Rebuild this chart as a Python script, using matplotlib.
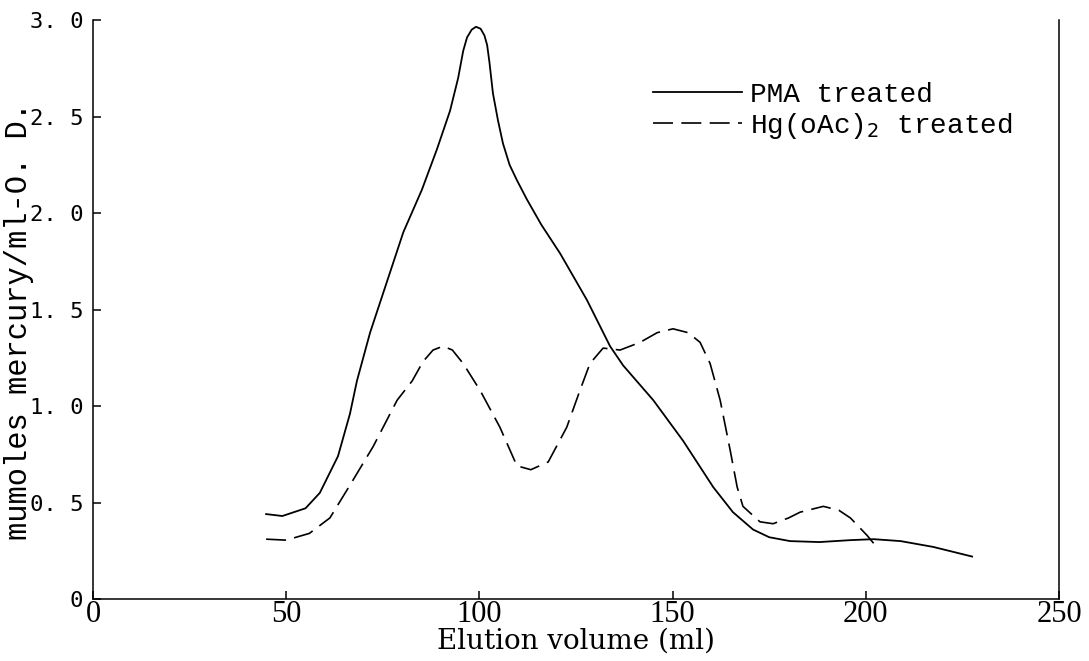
import matplotlib
matplotlib.use("Agg")
import matplotlib.pyplot as plt

# PMA treated (solid)
pma_x = [44.8, 49, 55, 58.7, 63.4, 66.5, 68.3, 71.7, 76, 80.3, 85.1, 89, 92.4,
         94.5, 95.8, 96.8, 98, 99.1, 100.3, 101.3, 102, 102.6, 103.5, 104.8,
         106.1, 107.8, 109.7, 112.3, 116, 120.9, 127.8, 133.8, 137.2, 145,
         152.7, 160.5, 165.6, 170.8, 175, 180.4, 188, 196, 202, 209, 217.4,
         227.5]
pma_y = [0.44, 0.43, 0.47, 0.55, 0.74, 0.96, 1.13, 1.38, 1.64, 1.90, 2.12, 2.33,
         2.53, 2.70, 2.84, 2.91, 2.95, 2.965, 2.955, 2.92, 2.87, 2.78, 2.62,
         2.48, 2.36, 2.25, 2.17, 2.07, 1.94, 1.79, 1.55, 1.31, 1.21, 1.03, 0.82,
         0.58, 0.45, 0.36, 0.32, 0.30, 0.295, 0.305, 0.31, 0.30, 0.27, 0.22]

# Hg(oAc)2 treated (dashed)
hg_x = [44.8, 50, 56, 61.3, 66.5, 72.5, 78.7, 82.6, 85.4, 88, 90.6, 93, 95.8,
        100.2, 105.3, 109.7, 113.3, 117.8, 122.6, 126, 128.6, 132, 136.4,
        141.6, 146, 150.1, 154, 157.1, 159.7, 162.3, 164.9, 166.7, 168.2,
        172.6, 176, 180, 183, 189, 193, 196, 200.3, 203.2]
hg_y = [0.31, 0.305, 0.34, 0.42, 0.59, 0.79, 1.03, 1.13, 1.23, 1.29, 1.31,
        1.29, 1.22, 1.08, 0.89, 0.69, 0.67, 0.71, 0.89, 1.08, 1.22, 1.30, 1.29,
        1.33, 1.38, 1.40, 1.38, 1.33, 1.22, 1.03, 0.77, 0.58, 0.48, 0.40,
        0.39, 0.42, 0.45, 0.48, 0.46, 0.42, 0.33, 0.26]

x_ticks = [0, 50, 100, 150, 200, 250]
y_ticks = [0, 0.5, 1.0, 1.5, 2.0, 2.5, 3.0]
y_tick_labels = ["0", "0. 5", "1. 0", "1. 5", "2. 0", "2. 5", "3. 0"]

fig = plt.figure(figsize=(10.89, 6.61), dpi=100)
ax = fig.add_axes([0.0854, 0.0938, 0.8871, 0.8759])

ax.plot(pma_x, pma_y, color="black", linewidth=1.3, label="PMA treated")
ax.plot(hg_x, hg_y, color="black", linewidth=1.2, dashes=(12, 5),
        label="Hg(oAc)$_2$ treated")

ax.set_xlim(0, 250)
ax.set_ylim(0, 3.0)
ax.spines["top"].set_visible(False)
for s in ["left", "bottom", "right"]:
    ax.spines[s].set_linewidth(1.1)

ax.set_xticks(x_ticks)
ax.set_xticklabels([str(t) for t in x_ticks], family="Liberation Serif", fontsize=22)
ax.set_yticks(y_ticks)
ax.set_yticklabels(y_tick_labels, family="DejaVu Sans Mono", fontsize=16)
ax.tick_params(direction="in", length=6, width=1.1)
ax.tick_params(axis="y", pad=7)
ax.tick_params(axis="x", pad=1)

ax.set_xlabel("Elution volume (ml)", family="DejaVu Serif", fontsize=20, labelpad=-1)
ax.set_ylabel("mumoles mercury/ml-O. D.", family="Liberation Mono", fontsize=22)
ax.yaxis.set_label_coords(-0.061, 0.48)

leg = ax.legend(loc="upper left", bbox_to_anchor=(0.554, 0.937), frameon=False,
                handlelength=3.2, handletextpad=0.3, labelspacing=0.12,
                prop={"family": "Liberation Mono", "size": 20})

fig.savefig("out.png", dpi=100)
